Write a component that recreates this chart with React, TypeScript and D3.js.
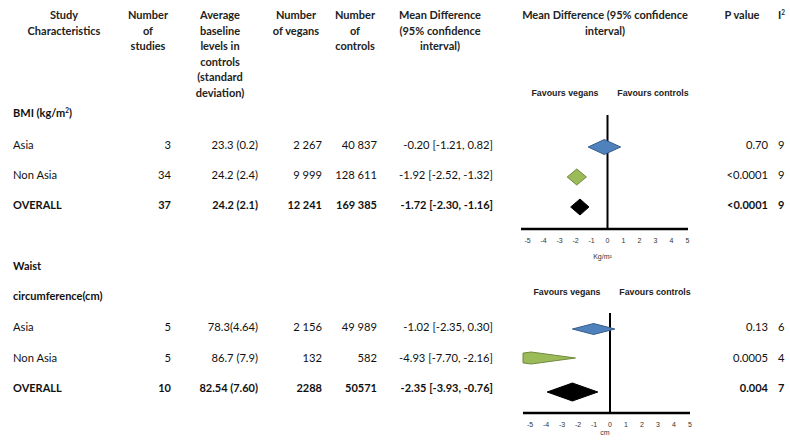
import React from "react";
import * as d3 from "d3";

// ---- data ----
const subgroups = ["Asia", "Non Asia", "OVERALL"];

const bmiStudies = [3, 34, 37];
const bmiBaseline = ["23.3 (0.2)", "24.2 (2.4)", "24.2 (2.1)"];
const bmiVegans = ["2 267", "9 999", "12 241"];
const bmiControls = ["40 837", "128 611", "169 385"];
const bmiMean = [-0.2, -1.92, -1.72];
const bmiLower = [-1.21, -2.52, -2.3];
const bmiUpper = [0.82, -1.32, -1.16];
const bmiP = ["0.70", "<0.0001", "<0.0001"];
const bmiI2 = ["9", "9", "9"];

const waistStudies = [5, 5, 10];
const waistBaseline = ["78.3(4.64)", "86.7 (7.9)", "82.54 (7.60)"];
const waistVegans = ["2 156", "132", "2288"];
const waistControls = ["49 989", "582", "50571"];
const waistMean = [-1.02, -4.93, -2.35];
const waistLower = [-2.35, -7.7, -3.93];
const waistUpper = [0.3, -2.16, -0.76];
const waistP = ["0.13", "0.0005", "0.004"];
const waistI2 = ["6", "4", "7"];

const ticks = [-5, -4, -3, -2, -1, 0, 1, 2, 3, 4, 5];

// ---- styling ----
const W = 790;
const H = 441;
const FONT = "Lato, 'Open Sans', sans-serif";
const ARIAL = "'Liberation Sans', Arial, sans-serif";
const FS = 11.2;
const FSB = 11;
const LATO_MID = 0.387;
const ARIAL_MID = 0.35;
const diamondFill = ["#4F81BD", "#9BBB59", "#000000"];
const diamondStroke = ["#385D8A", "#71893F", "#000000"];

const headers: { cx: number; lines: string[] }[] = [
  { cx: 64, lines: ["Study", "Characteristics"] },
  { cx: 148, lines: ["Number", "of", "studies"] },
  { cx: 220, lines: ["Average", "baseline", "levels in", "controls", "(standard", "deviation)"] },
  { cx: 296, lines: ["Number", "of vegans"] },
  { cx: 355, lines: ["Number", "of", "controls"] },
  { cx: 440, lines: ["Mean Difference", "(95% confidence", "interval)"] },
  { cx: 605, lines: ["Mean Difference (95% confidence", "interval)"] },
  { cx: 742, lines: ["P value"] },
];

const fmt = (v: number) => v.toFixed(2);

type Section = {
  rowsY: number[];
  studies: number[];
  baseline: string[];
  vegans: string[];
  controls: string[];
  mean: number[];
  lower: number[];
  upper: number[];
  p: string[];
  i2: string[];
  x: d3.ScaleLinear<number, number>;
  axisY: number;
  axisX0: number;
  axisX1: number;
  zeroTop: number;
  favoursY: number;
  favoursDx: number;
  unit: string;
  unitY: number;
  diamondDy: number[];
  diamondH: number[];
};

const sections: Section[] = [
  {
    rowsY: [145, 175, 205],
    studies: bmiStudies,
    baseline: bmiBaseline,
    vegans: bmiVegans,
    controls: bmiControls,
    mean: bmiMean,
    lower: bmiLower,
    upper: bmiUpper,
    p: bmiP,
    i2: bmiI2,
    x: d3.scaleLinear().domain([-5, 5]).range([527.5, 687.5]),
    axisY: 229,
    axisX0: 521,
    axisX1: 688,
    zeroTop: 115,
    favoursY: 93,
    favoursDx: 0,
    unit: "Kg/m²",
    unitY: 257,
    diamondDy: [2, 2, 2],
    diamondH: [7.5, 8, 8],
  },
  {
    rowsY: [327, 358, 388],
    studies: waistStudies,
    baseline: waistBaseline,
    vegans: waistVegans,
    controls: waistControls,
    mean: waistMean,
    lower: waistLower,
    upper: waistUpper,
    p: waistP,
    i2: waistI2,
    x: d3.scaleLinear().domain([-5, 5]).range([530, 690]),
    axisY: 413,
    axisX0: 523,
    axisX1: 690,
    zeroTop: 313,
    favoursY: 292,
    favoursDx: 2,
    unit: "cm",
    unitY: 433,
    diamondDy: [2, 0, 4],
    diamondH: [5.5, 6, 9],
  },
];

// keep the part of a polygon that lies right of the vertical line x = xMin
function clipLeft(poly: [number, number][], xMin: number): [number, number][] {
  const out: [number, number][] = [];
  for (let i = 0; i < poly.length; i++) {
    const a = poly[i];
    const b = poly[(i + 1) % poly.length];
    const aIn = a[0] >= xMin;
    const bIn = b[0] >= xMin;
    if (aIn) out.push(a);
    if (aIn !== bIn) {
      const t = (xMin - a[0]) / (b[0] - a[0]);
      out.push([xMin, a[1] + t * (b[1] - a[1])]);
    }
  }
  return out;
}

function diamondPath(s: Section, i: number): string {
  const x = s.x;
  const y = s.rowsY[i] + s.diamondDy[i];
  const h = s.diamondH[i];
  const pts: [number, number][] = [
    [x(s.lower[i]), y],
    [x(s.mean[i]), y - h],
    [x(s.upper[i]), y],
    [x(s.mean[i]), y + h],
  ];
  return (d3.line()(clipLeft(pts, s.axisX0)) as string) + "Z";
}

// a solid bar between two points, drawn as a filled quadrilateral
function barPath(x0: number, y0: number, x1: number, y1: number, w: number): string {
  const vertical = x0 === x1;
  const pts: [number, number][] = vertical
    ? [[x0 - w / 2, y0], [x0 + w / 2, y0], [x1 + w / 2, y1], [x1 - w / 2, y1]]
    : [[x0, y0 - w / 2], [x1, y1 - w / 2], [x1, y1 + w / 2], [x0, y0 + w / 2]];
  return (d3.line()(pts) as string) + "Z";
}

const rowBaseline = (y: number, fs: number) => y + LATO_MID * fs;

export default function App() {
  const els: React.ReactElement[] = [];

  // zero reference lines and horizontal axes
  sections.forEach((s, k) => {
    els.push(
      <path key={`z-${k}`} d={barPath(s.x(0), s.zeroTop, s.x(0), s.axisY, 2)} fill="#000000" />
    );
    els.push(
      <path key={`a-${k}`} d={barPath(s.axisX0, s.axisY, s.axisX1, s.axisY, 2.4)} fill="#000000" />
    );
  });

  // column headers
  headers.forEach((h) =>
    h.lines.forEach((ln, k) =>
      els.push(
        <text
          key={`h-${h.cx}-${k}`}
          x={h.cx}
          y={rowBaseline(15 + k * 15.5, FSB)}
          textAnchor="middle"
          fontFamily={FONT}
          fontSize={FSB}
          fontWeight={700}
          fill="#222"
        >
          {ln}
        </text>
      )
    )
  );
  els.push(
    <text key="i2" x={778} y={rowBaseline(15, FSB)} fontFamily={FONT} fontSize={FSB} fontWeight={700} fill="#222">
      I<tspan fontSize={6.5} dy={-4}>2</tspan>
    </text>
  );

  // section titles
  els.push(
    <text key="bmi" x={13} y={rowBaseline(113, FSB)} fontFamily={FONT} fontSize={FSB} fontWeight={700} fill="#111">
      BMI (kg/m<tspan fontSize={6.5} dy={-4}>2</tspan>
      <tspan dy={4}>)</tspan>
    </text>
  );
  els.push(
    <text key="waist" x={13} y={rowBaseline(266, FSB)} fontFamily={FONT} fontSize={FSB} fontWeight={700} fill="#111">
      Waist
    </text>
  );
  els.push(
    <text key="circ" x={13} y={rowBaseline(296, FSB)} fontFamily={FONT} fontSize={FSB} fontWeight={700} fill="#111">
      circumference(cm)
    </text>
  );

  sections.forEach((s, k) => {
    // table rows
    subgroups.forEach((name, i) => {
      const isBold = i === 2;
      const fs = isBold ? FSB : FS;
      const y = rowBaseline(s.rowsY[i], fs);
      const common = { fontFamily: FONT, fontSize: fs, fontWeight: isBold ? 700 : 400, fill: "#111" };
      const cells: [number, "start" | "end", string][] = [
        [13, "start", name],
        [171, "end", String(s.studies[i])],
        [258, "end", s.baseline[i]],
        [322, "end", s.vegans[i]],
        [377, "end", s.controls[i]],
        [493, "end", `${fmt(s.mean[i])} [${fmt(s.lower[i])}, ${fmt(s.upper[i])}]`],
        [768, "end", s.p[i]],
        [778, "start", s.i2[i]],
      ];
      cells.forEach(([cx, anchor, txt], c) =>
        els.push(
          <text key={`r-${k}-${i}-${c}`} x={cx} y={y} textAnchor={anchor} {...common}>
            {txt}
          </text>
        )
      );
    });

    // favours labels
    const fy = s.favoursY + ARIAL_MID * 8.8;
    els.push(
      <text key={`fv-${k}`} x={565 + s.favoursDx} y={fy} textAnchor="middle" fontFamily={ARIAL} fontWeight={700} fontSize={8.8} fill="#222">
        Favours vegans
      </text>
    );
    els.push(
      <text key={`fc-${k}`} x={653 + s.favoursDx} y={fy} textAnchor="middle" fontFamily={ARIAL} fontWeight={700} fontSize={8.8} fill="#222">
        Favours controls
      </text>
    );

    // pooled estimates
    subgroups.forEach((_, i) =>
      els.push(
        <path key={`d-${k}-${i}`} d={diamondPath(s, i)} fill={diamondFill[i]} stroke={diamondStroke[i]} strokeWidth={1} />
      )
    );

    // tick labels and unit
    ticks.forEach((t) =>
      els.push(
        <text key={`t-${k}-${t}`} x={s.x(t)} y={s.axisY + 12 + ARIAL_MID * 7} textAnchor="middle" fontFamily={ARIAL} fontSize={7} fill="#333">
          {String(t)}
        </text>
      )
    );
    els.push(
      <text key={`u-${k}`} x={s.x(0) - 5} y={s.unitY + ARIAL_MID * 7} textAnchor="middle" fontFamily={ARIAL} fontSize={7} fill="#333">
        {s.unit}
      </text>
    );
  });

  return (
    <svg width={W} height={H} style={{ position: "absolute", left: 0, top: 0 }}>
      <rect x={0} y={0} width={W} height={H} fill="#fff" />
      {els}
    </svg>
  );
}
